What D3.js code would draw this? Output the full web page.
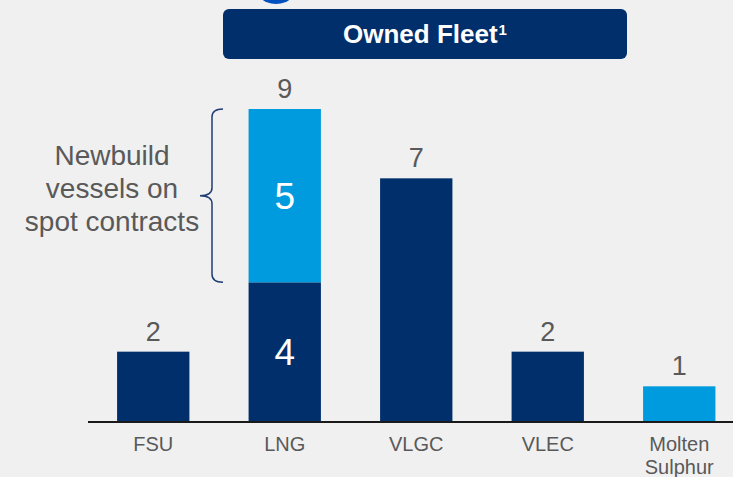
<!DOCTYPE html>
<html>
<head>
<meta charset="utf-8">
<script src="https://cdn.jsdelivr.net/npm/d3@7"></script>
<style>
  html, body { margin: 0; padding: 0; background: #f0f0f0; }
  svg { display: block; font-family: Arial, "Liberation Sans", sans-serif; }
</style>
</head>
<body>
<div class="fleet"></div>
<script>
// chart data
const categories = ["FSU", "LNG", "VLGC", "VLEC", "Molten Sulphur"];
const contracted = [2, 4, 7, 2, 0];   // dark segment
const spot = [0, 5, 0, 0, 1];         // light segment
const title = "Owned Fleet";
const bracketNote = ["Newbuild", "vessels on", "spot contracts"];

const dark = "#002f6c", light = "#009ade", grey = "#595959";
const W = 733, H = 477;

const svg = d3.select(".fleet")
  .append("svg")
    .attr("width", W)
    .attr("height", H);

svg.append("rect").attr("width", W).attr("height", H).attr("fill", "#f0f0f0");

// partial blue shape cut by top edge
svg.append("circle")
  .attr("cx", 276).attr("cy", -20).attr("r", 24)
  .attr("fill", "#0050c0");

// title box
svg.append("rect")
  .attr("x", 223).attr("y", 9)
  .attr("width", 404).attr("height", 50)
  .attr("rx", 6)
  .attr("fill", dark);
const t = svg.append("text")
  .attr("x", 425).attr("y", 43)
  .attr("text-anchor", "middle")
  .attr("fill", "#fff")
  .attr("font-weight", "bold")
  .attr("font-size", 26)
  .text(title);
t.append("tspan").attr("font-size", 15).attr("dx", 1).attr("dy", -8).text("1");

const rows = categories.map((c, i) => ({cat: c, contracted: contracted[i], spot: spot[i]}));
const stacked = d3.stack().keys(["contracted", "spot"])(rows);

const x = d3.scaleBand()
  .domain(categories)
  .range([87.5, 745])
  .paddingInner(0.45)
  .paddingOuter(0.225);

const y = d3.scaleLinear()
  .domain([0, 9])
  .range([421, 109]);

const colors = {contracted: dark, spot: light};

svg.append("g")
  .selectAll("g")
  .data(stacked)
  .join("g")
    .attr("fill", d => colors[d.key])
  .selectAll("rect")
  .data(d => d)
  .join("rect")
    .attr("x", d => x(d.data.cat))
    .attr("width", x.bandwidth())
    .attr("y", d => y(d[1]))
    .attr("height", d => y(d[0]) - y(d[1]));

// total labels above bars
svg.append("g")
  .selectAll("text")
  .data(rows)
  .join("text")
    .attr("x", d => x(d.cat) + x.bandwidth() / 2)
    .attr("y", d => y(d.contracted + d.spot) - 11)
    .attr("text-anchor", "middle")
    .attr("fill", grey)
    .attr("font-size", 27)
    .text(d => d.contracted + d.spot);

// segment labels inside split bars
const split = rows.filter(d => d.contracted > 0 && d.spot > 0);
stacked.forEach(s => {
  svg.append("g")
    .selectAll("text")
    .data(s.filter(d => split.includes(d.data)))
    .join("text")
      .attr("x", d => x(d.data.cat) + x.bandwidth() / 2)
      .attr("y", d => (y(d[0]) + y(d[1])) / 2 + 13.5)
      .attr("text-anchor", "middle")
      .attr("fill", "#fff")
      .attr("font-size", 37)
      .text(d => d[1] - d[0]);
});

// baseline
svg.append("line")
  .attr("x1", 88).attr("x2", W)
  .attr("y1", y(0) + 1).attr("y2", y(0) + 1)
  .attr("stroke", "#1a1a1a")
  .attr("stroke-width", 2);

// category labels
const xl = svg.append("g")
  .selectAll("text")
  .data(categories)
  .join("text")
    .attr("x", d => x(d) + x.bandwidth() / 2)
    .attr("y", 451)
    .attr("text-anchor", "middle")
    .attr("fill", grey)
    .attr("font-size", 20);
xl.each(function(d) {
  const words = d.split(" ");
  const el = d3.select(this);
  words.forEach((w, i) => {
    el.append("tspan")
      .attr("x", x(d) + x.bandwidth() / 2)
      .attr("dy", i === 0 ? 0 : 23)
      .text(w);
  });
});

// bracket for spot segment of LNG
const lng = stacked[1][1];
const bTop = y(lng[1]), bBot = y(lng[0]), bMid = (bTop + bBot) / 2;
const bx = 212, r = 8;
svg.append("path")
  .attr("d", `M${bx + 11},${bTop} Q${bx},${bTop} ${bx},${bTop + r}
              L${bx},${bMid - r} Q${bx},${bMid} ${bx - 12},${bMid}
              Q${bx},${bMid} ${bx},${bMid + r}
              L${bx},${bBot - r} Q${bx},${bBot} ${bx + 11},${bBot}`)
  .attr("fill", "none")
  .attr("stroke", "#1f3c73")
  .attr("stroke-width", 1.5);

svg.append("text")
  .attr("x", 112).attr("y", 165)
  .attr("text-anchor", "middle")
  .attr("fill", grey)
  .attr("font-size", 28)
  .selectAll("tspan")
  .data(bracketNote)
  .join("tspan")
    .attr("x", 112)
    .attr("dy", (d, i) => i === 0 ? 0 : 33)
    .text(d => d);
</script>
</body>
</html>
